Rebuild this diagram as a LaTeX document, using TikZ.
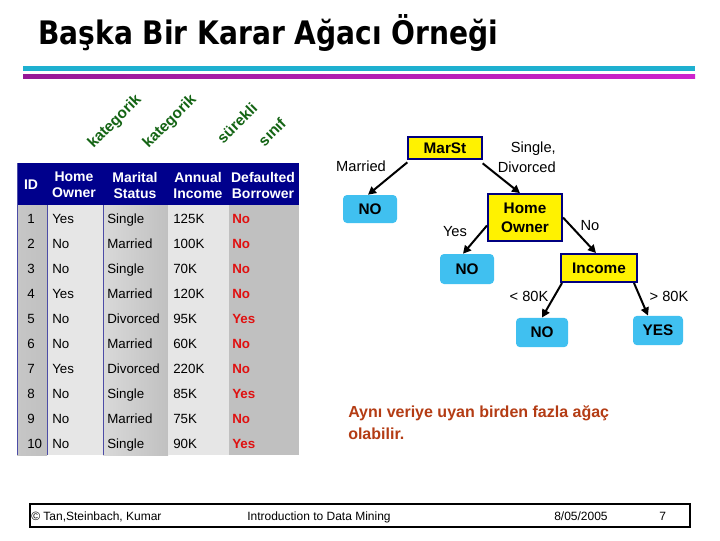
\documentclass[tikz,border=0pt]{standalone}
\usepackage{fontspec}
\setmainfont{Liberation Sans}
\newfontfamily\titlefont{DejaVu Sans}
\usetikzlibrary{arrows.meta,calc}
\definecolor{navy}{RGB}{0,0,128}
\definecolor{hdrblue}{RGB}{0,0,140}
\definecolor{colgray}{RGB}{192,192,192}
\definecolor{collight}{RGB}{230,230,230}
\definecolor{redtxt}{RGB}{224,16,16}
\definecolor{greentxt}{RGB}{20,100,20}
\definecolor{leafblue}{RGB}{64,192,240}
\definecolor{notecol}{RGB}{180,60,20}
\definecolor{cyanline}{RGB}{30,176,208}
\definecolor{magA}{RGB}{150,25,150}
\definecolor{magB}{RGB}{205,35,205}
\begin{document}
\begin{tikzpicture}[x=0.75pt,y=-0.75pt,
  hdr/.style={text=white, font=\bfseries\fontsize{10.5}{12}\selectfont, align=center, inner sep=0},
  cell/.style={anchor=base west, inner sep=0, font=\fontsize{10}{11}\selectfont},
  redcell/.style={cell, text=redtxt, font=\bfseries\fontsize{10}{11}\selectfont},
  attr/.style={text=greentxt, font=\bfseries\fontsize{11.5}{12}\selectfont, rotate=45, inner sep=0},
  decision/.style={draw=navy, line width=1.5pt, fill=yellow, font=\bfseries\fontsize{11.5}{14}\selectfont, align=center, inner sep=0},
  leaf/.style={fill=leafblue, rounded corners=3pt, font=\bfseries\fontsize{11.5}{13}\selectfont, inner sep=0},
  edgelbl/.style={font=\fontsize{11}{14}\selectfont, inner sep=0},
  edge/.style={line width=1.5pt, -{Triangle[length=6pt,width=6pt]}},
  foot/.style={anchor=base west, inner sep=0, font=\fontsize{9}{11}\selectfont}]
\useasboundingbox (0,0) rectangle (720,540);
\fill[white] (0,0) rectangle (720,540);

% title and rules
\node[anchor=base west, inner sep=0] (title) at (38,44) {\resizebox{345pt}{22.5pt}{\titlefont\bfseries Başka Bir Karar Ağacı Örneği}};
\fill[cyanline] (23,66) rectangle (695,71);
\shade[left color=magA, right color=magB] (23,74) rectangle (695,78);

% attribute type labels
\node[attr] (k1) at (115,122) {kategorik};
\node[attr] (k2) at (170,122) {kategorik};
\node[attr] (s1) at (237,123) {sürekli};
\node[attr] (s2) at (272,132) {sınıf};

% table
\fill[hdrblue] (17,163) rectangle (299,205);
\shade[left color=colgray!90!white, right color=colgray] (17,205) rectangle (47,455);
\fill[collight] (47,205) rectangle (103,455);
\shade[left color=colgray!60!white, right color=colgray] (103,205) rectangle (168,455);
\fill[collight] (168,205) rectangle (229,455);
\fill[colgray] (229,205) rectangle (299,455);
\draw[navy!70, line width=0.6pt] (17,163) -- (17,455);
\draw[navy!70, line width=0.6pt] (47,205) -- (47,455);
\draw[navy!70, line width=0.6pt] (103,205) -- (103,455);

\node[hdr] (hid) at (31,185) {ID};
\node[hdr] (hho) at (74,185) {Home\\Owner};
\node[hdr] (hms) at (135,185) {Marital\\Status};
\node[hdr] (hai) at (198,185) {Annual\\Income};
\node[hdr] (hdb) at (263,185) {Defaulted\\Borrower};

\foreach \i/\h/\m/\a/\d in {1/Yes/Single/125K/No, 2/No/Married/100K/No, 3/No/Single/70K/No,
  4/Yes/Married/120K/No, 5/No/Divorced/95K/Yes, 6/No/Married/60K/No, 7/Yes/Divorced/220K/No,
  8/No/Single/85K/Yes, 9/No/Married/75K/No, 10/No/Single/90K/Yes}{
  \pgfmathsetmacro{\yy}{198+25*\i}
  \node[cell] (id\i) at (27,\yy) {\i};
  \node[cell] (ho\i) at (52,\yy) {\h};
  \node[cell] (ms\i) at (107,\yy) {\m};
  \node[cell] (ai\i) at (173,\yy) {\a};
  \node[redcell] (db\i) at (232,\yy) {\d};
}

% tree
\node[decision, minimum width=55pt, minimum height=17pt] (marst) at (445,148) {MarSt};
\node[leaf, minimum width=40.5pt, minimum height=21pt] (no1) at (370,209) {NO};
\node[decision, minimum width=55.5pt, minimum height=35pt] (home) at (525,217.5) {Home\\Owner};
\node[leaf, minimum width=40.5pt, minimum height=22.5pt] (no2) at (467,269) {NO};
\node[decision, minimum width=57pt, minimum height=21pt] (income) at (599,268) {Income};
\node[leaf, minimum width=39pt, minimum height=22pt] (no3) at (542,332.5) {NO};
\node[leaf, minimum width=37.5pt, minimum height=22pt] (yes) at (658,330.5) {YES};

\draw[edge] ($(marst.south west)+(0,2)$) -- ($(no1.north)+(-2,0)$);
\draw[edge] ($(marst.south east)+(0,3)$) -- ($(home.north)+(-5,0)$);
\draw[edge] ($(home.west)+(0,8)$) -- ($(no2.north)+(-4,0)$);
\draw[edge] (home.east) -- ($(income.north)+(-3,0)$);
\draw[edge] ($(income.south west)+(2,0)$) -- (no3.north);
\draw[edge] ($(income.south east)+(-4,0)$) -- ($(yes.north)+(-10,0)$);

\node[edgelbl] (lmar) at (361,166) {Married};
\node[edgelbl, anchor=east] (lsin) at (556,149) {Single,};
\node[edgelbl, anchor=east] (ldiv) at (556,167) {Divorced};
\node[edgelbl] (lyes) at (455,232) {Yes};
\node[edgelbl] (lno) at (590,226) {No};
\node[edgelbl] (llt) at (529,296) {< 80K};
\node[edgelbl] (lgt) at (669,296) {> 80K};

% note
\node[anchor=base west, inner sep=0, text=notecol, font=\bfseries\fontsize{12}{16}\selectfont] (note1) at (348,417) {Aynı veriye uyan birden fazla ağaç};
\node[anchor=base west, inner sep=0, text=notecol, font=\bfseries\fontsize{12}{16}\selectfont] (note2) at (348,439) {olabilir.};

% footer
\draw[line width=1.5pt] (30,504) rectangle (690,527);
\node[foot] (f1) at (31,520) {© Tan,Steinbach, Kumar};
\node[foot] (f2) at (247,520) {Introduction to Data Mining};
\node[foot] (f3) at (554,520) {8/05/2005};
\node[foot] (f4) at (659,520) {7};
\end{tikzpicture}
\end{document}
